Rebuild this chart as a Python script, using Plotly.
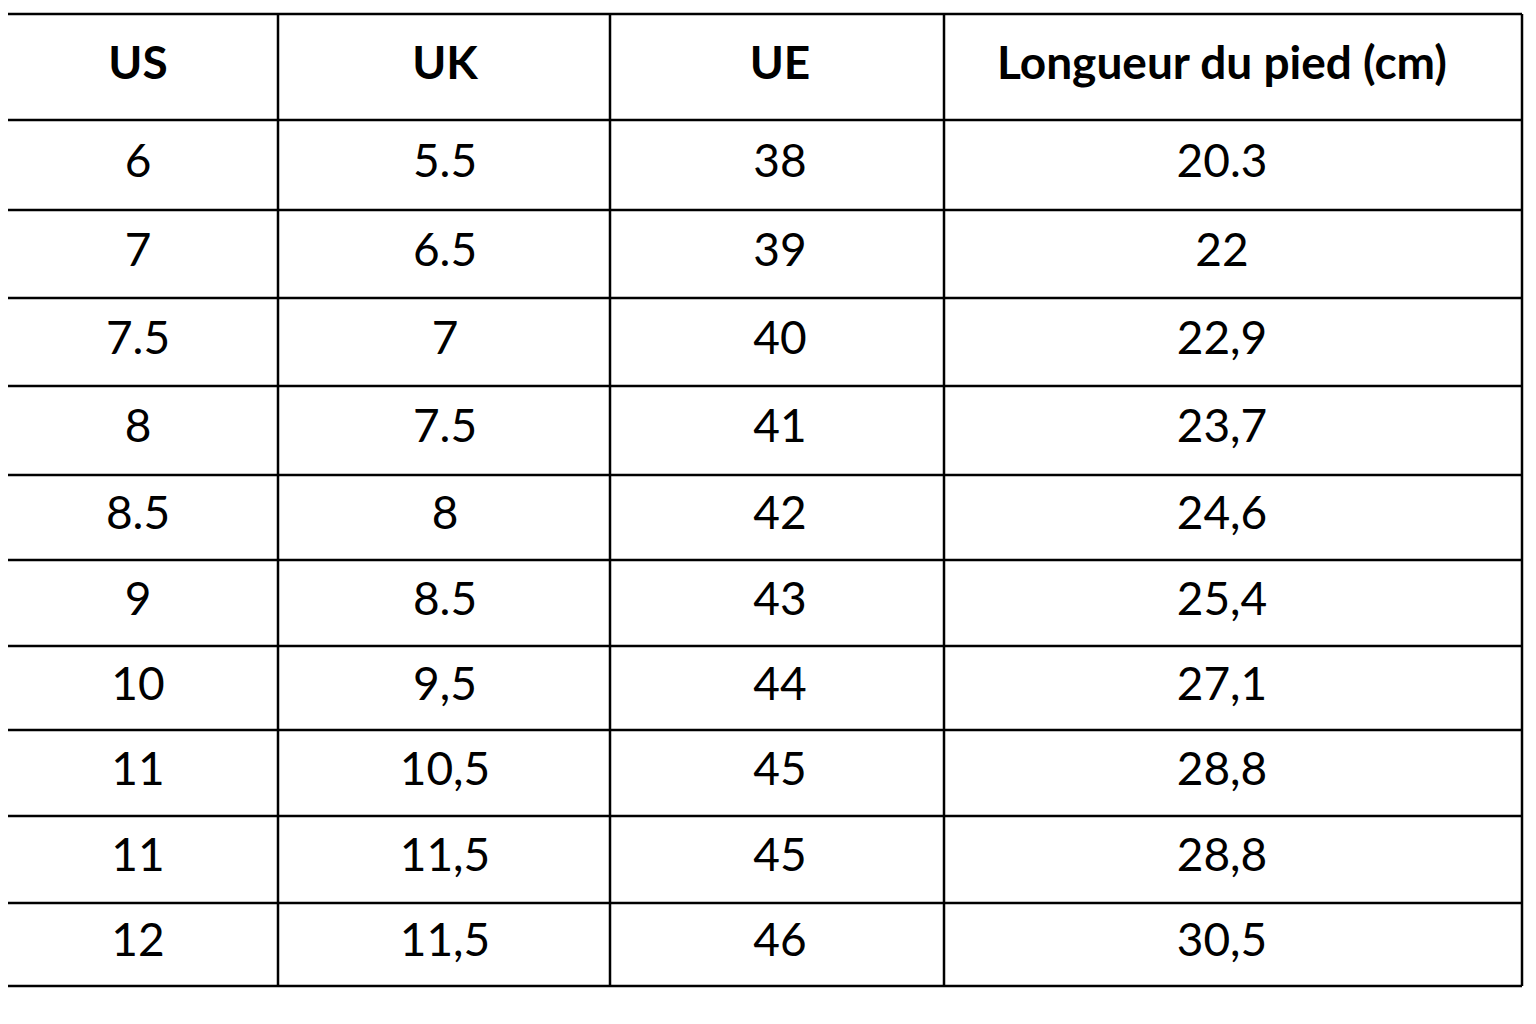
import plotly.graph_objects as go

headers = ["US", "UK", "UE", "Longueur du pied (cm)"]
us = ["6", "7", "7.5", "8", "8.5", "9", "10", "11", "11", "12"]
uk = ["5.5", "6.5", "7", "7.5", "8", "8.5", "9,5", "10,5", "11,5", "11,5"]
ue = ["38", "39", "40", "41", "42", "43", "44", "45", "45", "46"]
foot = ["20.3", "22", "22,9", "23,7", "24,6", "25,4", "27,1", "28,8", "28,8", "30,5"]

col_edges = [1, 278, 610, 944, 1522]
row_edges = [14, 120, 210, 298, 386, 475, 560, 646, 730, 816, 903, 986]
col_centers = [138, 445, 780, 1222]

fig = go.Figure()
shapes = []
lw = 2.5
for x in col_edges:
    shapes.append(dict(type="line", x0=x, x1=x, y0=row_edges[0], y1=row_edges[-1],
                       line=dict(color="black", width=lw), xref="x", yref="y"))
for y in row_edges:
    shapes.append(dict(type="line", x0=col_edges[0], x1=col_edges[-1], y0=y, y1=y,
                       line=dict(color="black", width=lw), xref="x", yref="y"))

hy = (row_edges[0] + row_edges[1]) / 2
fig.add_trace(go.Scatter(x=col_centers, y=[hy] * 4, text=[f"<b>{h}</b>" for h in headers],
                         mode="text", textfont=dict(family="Lato", size=46, color="black"),
                         hoverinfo="skip"))
cy = [(row_edges[i] + row_edges[i + 1]) / 2 for i in range(1, len(row_edges) - 1)]
for cx, col in zip(col_centers, [us, uk, ue, foot]):
    fig.add_trace(go.Scatter(x=[cx] * len(col), y=cy, text=col, mode="text",
                             textfont=dict(family="Lato", size=46, color="black"),
                             hoverinfo="skip"))

fig.update_layout(width=1536, height=1024, margin=dict(l=0, r=0, t=0, b=0),
                  plot_bgcolor="white", paper_bgcolor="white", showlegend=False,
                  shapes=shapes,
                  xaxis=dict(range=[8, 1544], visible=False, fixedrange=True),
                  yaxis=dict(range=[1032, 8], visible=False, fixedrange=True))
fig.write_html("out.html")
